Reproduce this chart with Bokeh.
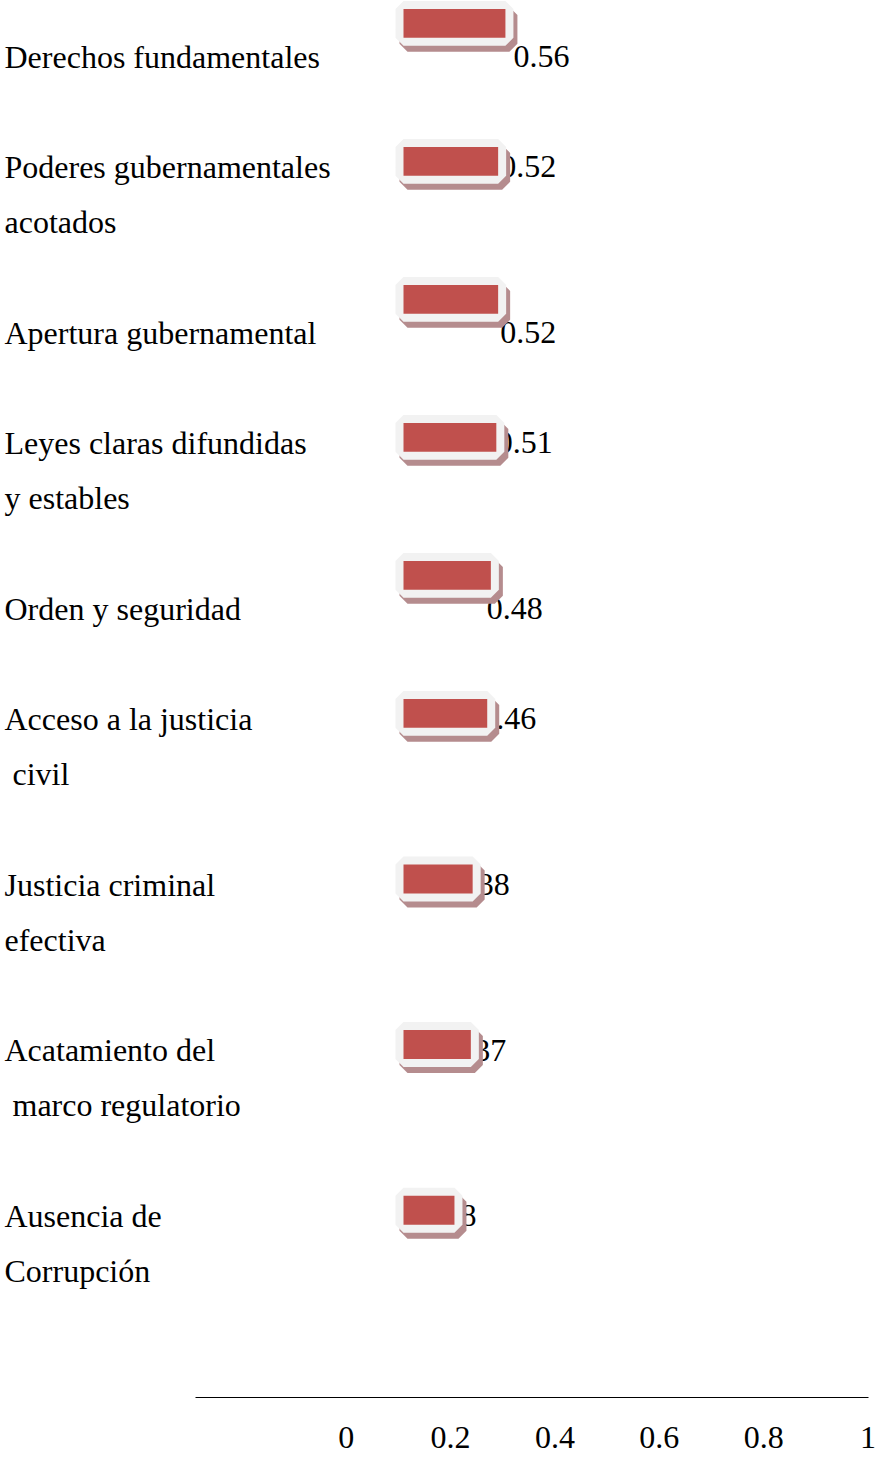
from bokeh.plotting import figure
from bokeh.models import ColumnDataSource, Range1d, FixedTicker
from bokeh.embed import file_html
from bokeh.resources import INLINE
from bokeh.core.properties import value
from bokeh.transform import dodge

# ---------------- data ----------------
categories = [
    "Derechos fundamentales",
    "Poderes gubernamentales\nacotados",
    "Apertura gubernamental",
    "Leyes claras difundidas\ny estables",
    "Orden y seguridad",
    "Acceso a la justicia\n civil",
    "Justicia criminal\nefectiva",
    "Acatamiento del\n marco regulatorio",
    "Ausencia de\nCorrupción",
]
values = [0.56, 0.52, 0.52, 0.51, 0.48, 0.46, 0.38, 0.37, 0.28]
tick_labels = ["0", "0.2", "0.4", "0.6", "0.8", "1"]

# ---------------- style ----------------
FONT = "Liberation Serif"
FS = "32px"
RED = "#c0504d"
GRAY = "#f2f2f2"
SHADOW = "#b58c8e"

W = 878
H1 = 1330
H2 = 127
LINE_PX = 55.2      # text line pitch
TOP_PX = 56         # centre of first text line below figure top
TEXT_X = 4
BAR_X0, BAR_K = 403, 182     # bar scale: value 0 position, px per unit
VAL_X0, VAL_K = 355, 332     # value-label scale
AX_K = 521.8                 # axis px per unit
AX_LEFT, AX_RIGHT = 195, 10
AX_PANEL = 60

# ---------------- text flow layout ----------------
line_y, line_text = [], []
first_line, block_mid = [], []
k = 0
for c in categories:
    parts = c.split("\n")
    first_line.append(k)
    block_mid.append(k + (len(parts) - 1) / 2)
    for part in parts:
        stripped = part.lstrip(" ")
        line_y.append(k)
        line_text.append("\u00a0" * (len(part) - len(stripped)) + stripped)
        k += 1
    k += 1

bar_y = [m - 0.6 for m in block_mid]

x_range = Range1d(start=-BAR_X0 / BAR_K, end=(W - BAR_X0) / BAR_K)
y_range = Range1d(start=(H1 - TOP_PX) / LINE_PX, end=-TOP_PX / LINE_PX)

p = figure(width=W, height=H1, x_range=x_range, y_range=y_range,
           output_backend="svg", toolbar_location=None,
           x_axis_location=None, y_axis_location=None,
           min_border=0, outline_line_color=None)
p.grid.visible = False
p.extra_x_ranges = {"vals": Range1d(start=-VAL_X0 / VAL_K, end=(W - VAL_X0) / VAL_K)}

lab_src = ColumnDataSource(dict(x=[x_range.start] * len(line_text), y=line_y, text=line_text))
p.text(x="x", y="y", text="text", source=lab_src, x_offset=TEXT_X,
       text_font=value(FONT), text_font_size=FS, text_color="black",
       text_align="left", text_baseline="middle")

bar_src = ColumnDataSource(dict(
    y=bar_y, left=[0.0] * len(values), right=values,
    vy=first_line, vx=values, vtext=["%.2f" % v for v in values],
))

# value labels (drawn beneath the bars)
p.text(x="vx", y="vy", text="vtext", source=bar_src, x_range_name="vals",
       text_font=value(FONT), text_font_size=FS, text_color="black",
       text_align="center", text_baseline="middle")

BH = 0.525
# shadow
p.hbar(y=dodge("y", 6 / LINE_PX), left=dodge("left", 4 / BAR_K), right=dodge("right", 4 / BAR_K),
       height=BH, source=bar_src, fill_color=SHADOW, line_color=SHADOW, line_width=16)
# light frame
p.hbar(y="y", left="left", right="right", height=BH, source=bar_src,
       fill_color=GRAY, line_color=GRAY, line_width=16)
# red bar
p.hbar(y="y", left="left", right="right", height=BH, source=bar_src,
       fill_color=RED, line_color=None)

# ---------------- axis figure ----------------
tick_vals = [float(t) for t in tick_labels]
frame_w = W - AX_LEFT - AX_RIGHT
ax_end = tick_vals[-1] + 0.5 / AX_K
ax_fig = figure(width=W, height=H2,
                x_range=Range1d(start=ax_end - frame_w / AX_K, end=ax_end),
                y_range=Range1d(0, 1),
                output_backend="svg", toolbar_location=None,
                x_axis_location="below", y_axis_location=None,
                min_border_left=AX_LEFT, min_border_right=AX_RIGHT,
                min_border_top=0, min_border_bottom=AX_PANEL,
                outline_line_color=None)
ax_fig.grid.visible = False
ax = ax_fig.xaxis[0]
ax.ticker = FixedTicker(ticks=tick_vals)
ax.major_label_overrides = {v: t for v, t in zip(tick_vals, tick_labels)}
ax.major_tick_line_color = None
ax.minor_tick_line_color = None
ax.major_tick_out = 0
ax.major_tick_in = 0
ax.major_label_standoff = 29
ax.axis_line_color = "black"
ax.axis_line_width = 1
ax.major_label_text_font = FONT
ax.major_label_text_font_size = FS
ax.major_label_text_color = "black"

open("out.html", "w").write(file_html([p, ax_fig], INLINE))
